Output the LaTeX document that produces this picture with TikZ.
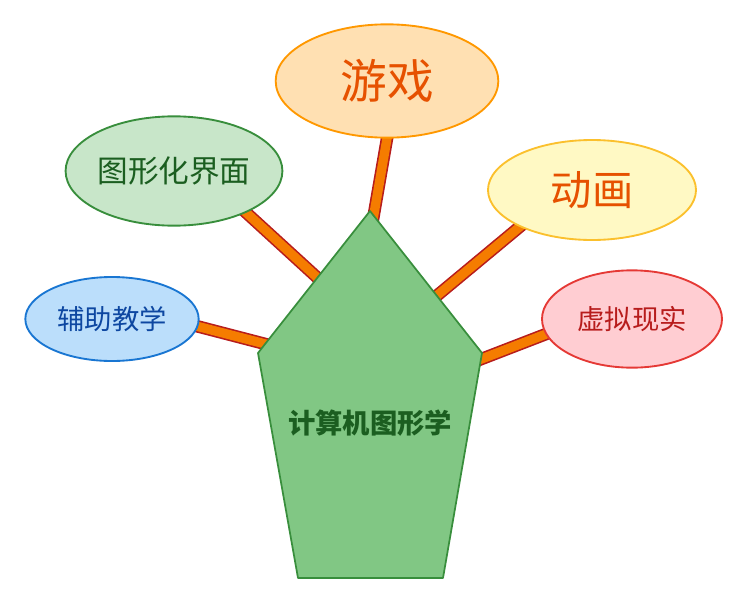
\documentclass[tikz,border=0pt]{standalone}
\usepackage{fontspec}
\setmainfont{Noto Sans CJK SC}
\usetikzlibrary{shapes.geometric, backgrounds}
\definecolor{gamefill}{HTML}{FFE0B2}
\definecolor{gameline}{HTML}{FF9800}
\definecolor{guifill}{HTML}{C8E6C9}
\definecolor{greenline}{HTML}{388E3C}
\definecolor{greentext}{HTML}{1B5E20}
\definecolor{animfill}{HTML}{FFF9C4}
\definecolor{animline}{HTML}{FBC02D}
\definecolor{orangetext}{HTML}{E65100}
\definecolor{aidfill}{HTML}{BBDEFB}
\definecolor{aidline}{HTML}{1976D2}
\definecolor{aidtext}{HTML}{0D47A1}
\definecolor{vrfill}{HTML}{FFCDD2}
\definecolor{vrline}{HTML}{E53935}
\definecolor{vrtext}{HTML}{B71C1C}
\definecolor{corefill}{HTML}{81C784}
\definecolor{linkorange}{HTML}{F57C00}
\definecolor{linkborder}{HTML}{B71C1C}

\begin{document}
\begin{tikzpicture}[x=0.75pt, y=-0.75pt,
    topic/.style={ellipse, draw, line width=1.4pt, inner sep=0pt},
    link/.style={draw=linkborder, line width=1.2pt, double=linkorange, double distance=7pt, shorten <=-6pt}]
  \useasboundingbox (0,0) rectangle (747,604);

  % Topic ellipses
  \node[topic, fill=gamefill, draw=gameline, minimum width=167pt, minimum height=85pt, text=orangetext, font=\fontsize{35}{40}\selectfont] (game) at (387,81) {游戏};
  \node[topic, fill=guifill, draw=greenline, minimum width=160pt, minimum height=82pt, text=greentext, font=\fontsize{23}{28}\selectfont] (gui) at (174,171) {图形化界面};
  \node[topic, fill=animfill, draw=animline, minimum width=156pt, minimum height=75pt, text=orangetext, font=\fontsize{31}{36}\selectfont] (anim) at (592,190) {动画};
  \node[topic, fill=aidfill, draw=aidline, minimum width=130pt, minimum height=63pt, text=aidtext, font=\fontsize{20.5}{24}\selectfont] (aid) at (112,319) {辅助教学};
  \node[topic, fill=vrfill, draw=vrline, minimum width=135pt, minimum height=73pt, text=vrtext, font=\fontsize{20.5}{24}\selectfont] (vr) at (632,319) {虚拟现实};

  % Ends of the links, hidden under the pentagon
  \coordinate (gameend) at (366,260);
  \coordinate (guiend) at (345,303);
  \coordinate (animend) at (410,318);
  \coordinate (vrend) at (440,375);
  \coordinate (aidend) at (300,353);

  % Central pentagon
  \draw[fill=corefill, draw=greenline, line width=1.3pt, line join=round]
    (370,211) -- (482,353) -- (443,578) -- (298,578) -- (258,353) -- cycle;
  \node[text=greentext, font=\bfseries\fontsize{20.5}{24}\selectfont] (core) at (370,423) {计算机图形学};

  % Links
  \begin{scope}[on background layer]
    \draw[link] (game.south) -- (gameend);
    \draw[link] (gui.-30) -- (guiend);
    \draw[link] (anim.207) -- (animend);
    \draw[link] (vr.190) -- (vrend);
    \draw[link] (aid.-5) -- (aidend);
  \end{scope}
\end{tikzpicture}
\end{document}
